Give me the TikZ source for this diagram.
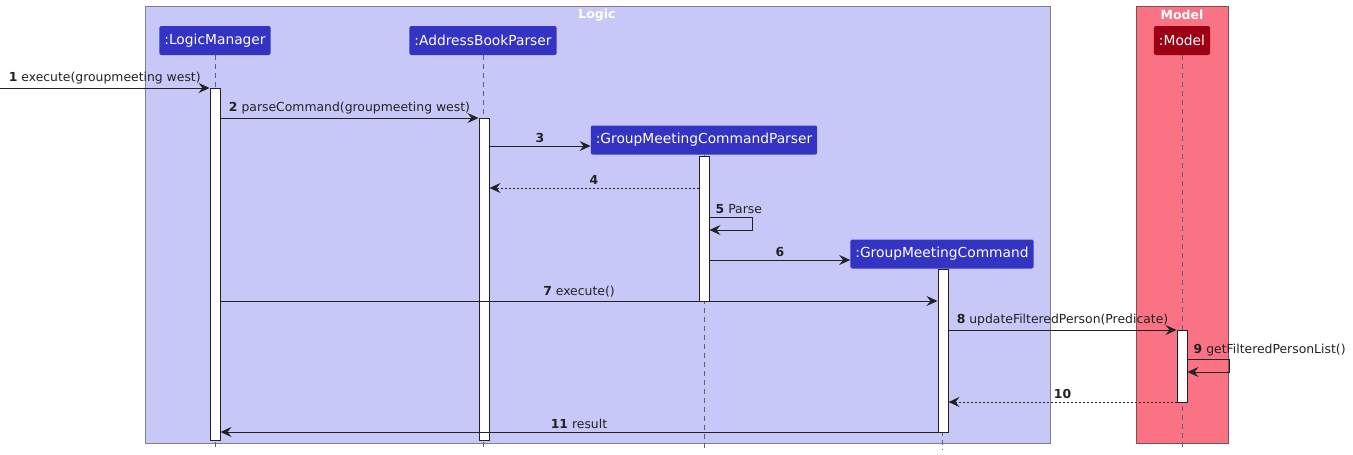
\documentclass[tikz,border=0pt]{standalone}
\usepackage{fontspec}
\setmainfont{DejaVu Sans}
\usetikzlibrary{arrows.meta, positioning}
\definecolor{logicbg}{RGB}{200, 200, 248}
\definecolor{logicedge}{RGB}{125, 125, 150}
\definecolor{partblue}{RGB}{51, 51, 196}
\definecolor{modelbg}{RGB}{250, 115, 132}
\definecolor{modeledge}{RGB}{125, 80, 90}
\definecolor{partred}{RGB}{155, 0, 20}
\definecolor{msgblack}{RGB}{34, 34, 34}
\definecolor{lifegray}{RGB}{95, 95, 110}

\begin{document}
\begin{tikzpicture}[x=1pt, y=-1pt, >=Stealth,
  participant/.style={rectangle, rounded corners=2pt, text=white,
    font=\fontsize{13.8}{16}\selectfont, inner xsep=5pt, minimum height=29pt},
  grouptitle/.style={text=white, font=\fontsize{12.5}{14}\selectfont\bfseries},
  lifeline/.style={draw=lifegray, line width=0.8pt, dash pattern=on 5pt off 4pt},
  actbar/.style={rectangle, draw=msgblack, fill=white, line width=1pt,
    minimum width=10pt, inner sep=0pt, anchor=north},
  msg/.style={draw=msgblack, line width=0.9pt,
    -{Stealth[length=11pt, width=10pt, inset=4pt]}},
  ret/.style={msg, dash pattern=on 2pt off 2pt},
  msglabel/.style={font=\fontsize{12.4}{14}\selectfont, text=msgblack, inner sep=1pt}]

\useasboundingbox (0,0) rectangle (1353,455);

% ============================================================
% GRUPOS (Logic, Model)
% ============================================================
\filldraw[fill=logicbg, draw=logicedge, line width=1pt] (145,6) rectangle (1050,443);
\node[grouptitle] (lbl-logic) at (597,15) {Logic};
\filldraw[fill=modelbg, draw=modeledge, line width=1pt] (1136,6) rectangle (1228,443);
\node[grouptitle] (lbl-model) at (1182,15) {Model};

% ============================================================
% PARTICIPANTES
% ============================================================
\node[participant, fill=partblue] (lm)   at (215,40.5)  {:LogicManager};
\node[participant, fill=partblue] (abp)  at (483,40.5)  {:AddressBookParser};
\node[participant, fill=partblue] (gmcp) at (704,140)   {:GroupMeetingCommandParser};
\node[participant, fill=partblue] (gmc)  at (942,254)   {:GroupMeetingCommand};
\node[participant, fill=partred]  (mdl)  at (1182,40.5) {:Model};

% Lineas de vida
\coordinate (bottom) at (0,450);
\foreach \p in {lm, abp, gmcp, gmc, mdl}
  \draw[lifeline] (\p.south) -- (\p.south |- bottom);

% ============================================================
% ACTIVACIONES
% ============================================================
\node[actbar, minimum height=352] (act-lm)   at (215,88)  {};
\node[actbar, minimum height=322] (act-abp)  at (484,118) {};
\node[actbar, minimum height=145] (act-gmcp) at (704,156) {};
\node[actbar, minimum height=163] (act-gmc)  at (943,269) {};
\node[actbar, minimum height=72]  (act-mdl)  at (1182,330) {};

% ============================================================
% MENSAJES
% ============================================================
\coordinate (entry) at (0,88);
\draw[msg] (entry) -- node[above=2pt, msglabel] {\textbf{1} execute(groupmeeting west)} (act-lm.west |- entry);

\coordinate (y2) at (0,118);
\draw[msg] (act-lm.east |- y2) -- node[above=2pt, msglabel] {\textbf{2} parseCommand(groupmeeting west)} (act-abp.west |- y2);

\coordinate (y3) at (0,146);
\draw[msg] (act-abp.east |- y3) -- node[above=2pt, msglabel] {\textbf{3}} (gmcp.west |- y3);

\coordinate (y4) at (0,188);
\draw[ret] (act-gmcp.west |- y4) -- node[above=2pt, msglabel] {\textbf{4}} (act-abp.east |- y4);

% Auto-mensaje: Parse
\coordinate (y5) at (0,217);
\coordinate (y5b) at (0,230);
\draw[msg] (act-gmcp.east |- y5) -- ++(43,0) -- ++(0,13) -- (act-gmcp.east |- y5b);
\node[msglabel, above right=2pt and 5pt] (lbl-parse) at (act-gmcp.east |- y5) {\textbf{5} Parse};

\coordinate (y6) at (0,260);
\draw[msg] (act-gmcp.east |- y6) -- node[above=2pt, msglabel] {\textbf{6}} (gmc.west |- y6);

\coordinate (y7) at (0,301);
\draw[msg] (act-lm.east |- y7) -- node[above=2pt, msglabel] {\textbf{7} execute()} (act-gmc.west |- y7);

\coordinate (y8) at (0,330);
\draw[msg] (act-gmc.east |- y8) -- node[above=2pt, msglabel] {\textbf{8} updateFilteredPerson(Predicate)} (act-mdl.west |- y8);

% Auto-mensaje: getFilteredPersonList
\coordinate (y9) at (0,359);
\coordinate (y9b) at (0,372);
\draw[msg] (act-mdl.east |- y9) -- ++(42,0) -- ++(0,13) -- (act-mdl.east |- y9b);
\node[msglabel, above right=2pt and 5pt] (lbl-getlist) at (act-mdl.east |- y9) {\textbf{9} getFilteredPersonList()};

\coordinate (y10) at (0,402);
\draw[ret] (act-mdl.west |- y10) -- node[above=2pt, msglabel] {\textbf{10}} (act-gmc.east |- y10);

\coordinate (y11) at (0,432);
\draw[msg] (act-gmc.west |- y11) -- node[above=2pt, msglabel] {\textbf{11} result} (act-lm.east |- y11);

\end{tikzpicture}
\end{document}
